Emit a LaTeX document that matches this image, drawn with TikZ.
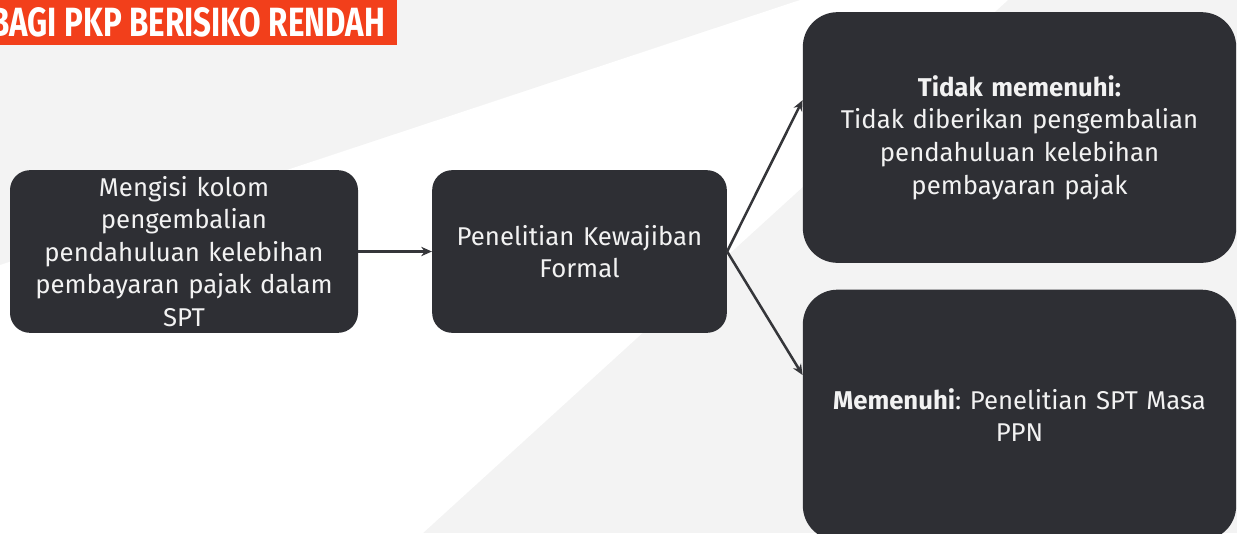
\documentclass[tikz,border=0pt]{standalone}
\usepackage{fontspec}
\setmainfont{Fira Sans}
\usetikzlibrary{arrows.meta}
\definecolor{boxdark}{HTML}{2E2F34}
\definecolor{boxtext}{HTML}{F2F2F2}
\definecolor{bannerred}{HTML}{F23F1B}
\definecolor{bgray}{HTML}{F3F3F3}
\definecolor{arrowc}{HTML}{35363A}
\frenchspacing
\begin{document}
\begin{tikzpicture}[x=0.75pt,y=-0.75pt,
  flowbox/.style={draw=none,fill=boxdark,text=boxtext,rounded corners=15pt,
    align=center,inner sep=0pt,font=\fontsize{19.3}{24.4}\selectfont},
  flowarrow/.style={draw=arrowc,line width=1.9pt,-{Stealth[length=8pt,width=7pt]}}]
  % page and background bands
  \useasboundingbox (0,0) rectangle (1237,533);
  \clip (0,0) rectangle (1237,533);
  \fill[bgray] (0,0) rectangle (1237,533);
  \fill[white] (0,265) -- (800,0) -- (1008,0) -- (423,533) -- (0,533) -- cycle;
  % title banner
  \fill[bannerred] (-5,0) rectangle (397,45);
  \node[anchor=south west,inner sep=0pt,text=white] (title) at (-10,37)
    {\resizebox{296pt}{21.75pt}{\bfseries BAGI PKP BERISIKO RENDAH}};
  % flow boxes
  \node[flowbox,minimum width=261pt,minimum height=122pt,text width=250pt] (A) at (184,251.5)
    {Mengisi kolom\\pengembalian\\pendahuluan kelebihan\\pembayaran pajak dalam\\SPT};
  \node[flowbox,minimum width=221pt,minimum height=122pt,text width=210pt] (B) at (579.5,251.5)
    {Penelitian Kewajiban\\Formal};
  \node[flowbox,rounded corners=26pt,minimum width=325pt,minimum height=188pt,text width=310pt] (C) at (1019.5,137.5)
    {\textbf{Tidak memenuhi:}\\Tidak diberikan pengembalian\\pendahuluan kelebihan\\pembayaran pajak};
  \node[flowbox,rounded corners=26pt,minimum width=325pt,minimum height=188pt,text width=310pt] (D) at (1019.5,415)
    {\textbf{Memenuhi}: Penelitian SPT Masa\\PPN};
  % connectors
  \draw[flowarrow] (A.east) -- (B.west);
  \draw[flowarrow] (B.east) -- ([yshift=28pt]C.west);
  \draw[flowarrow] (B.east) -- ([yshift=30pt]D.west);
\end{tikzpicture}
\end{document}
